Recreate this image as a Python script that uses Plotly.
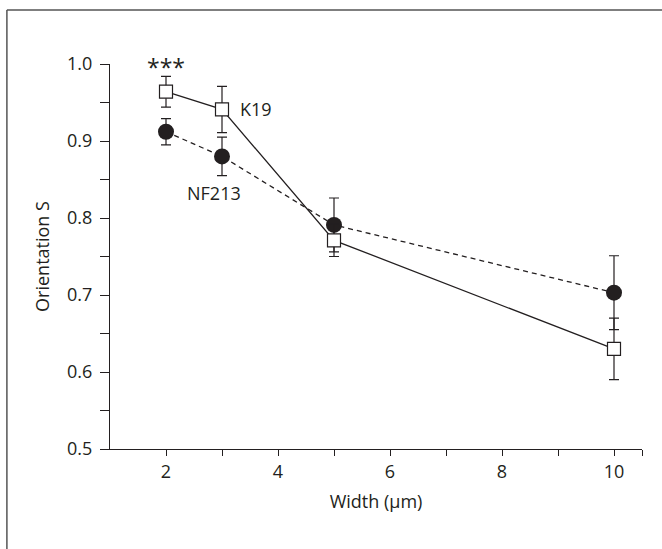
import plotly.graph_objects as go

widths = [2, 3, 5, 10]
k19_values = [0.964, 0.941, 0.771, 0.630]
k19_errors = [0.020, 0.030, 0.021, 0.040]
nf213_values = [0.912, 0.880, 0.791, 0.703]
nf213_errors = [0.017, 0.025, 0.035, 0.048]

INK = "#231f20"
FONT = "Open Sans"

fig = go.Figure()

fig.add_trace(go.Scatter(
    x=widths, y=nf213_values, mode="lines+markers", name="NF213",
    line=dict(color=INK, width=1.3, dash="5px,4px"),
    marker=dict(symbol="circle", size=16, color=INK, line=dict(color=INK, width=0)),
    error_y=dict(type="data", array=nf213_errors, color=INK, thickness=1.2, width=5),
    cliponaxis=False,
))
fig.add_trace(go.Scatter(
    x=widths, y=k19_values, mode="lines+markers", name="K19",
    line=dict(color=INK, width=1.3),
    marker=dict(symbol="square", size=13, color="white", line=dict(color=INK, width=1.2)),
    error_y=dict(type="data", array=k19_errors, color=INK, thickness=1.2, width=5),
    cliponaxis=False,
))

fig.add_annotation(x=2, xref="x", y=1.0, yref="paper", yanchor="middle", yshift=-3,
                   text="***", showarrow=False,
                   font=dict(family=FONT, size=23, color=INK))
fig.add_annotation(x=3.6, y=0.942, text="K19", showarrow=False,
                   font=dict(family=FONT, size=18, color=INK))
fig.add_annotation(x=2.85, y=0.832, text="NF213", showarrow=False,
                   font=dict(family=FONT, size=18, color=INK))

# cropped figure frame (top and left edges)
frame = dict(color="#555555", width=1.5)
fig.add_shape(type="line", xref="paper", yref="paper", x0=-0.1938, x1=1.06,
              y0=1.1403, y1=1.1403, line=frame)
fig.add_shape(type="line", xref="paper", yref="paper", x0=-0.1938, x1=-0.1938,
              y0=1.1403, y1=-0.3, line=frame)

fig.update_layout(
    width=662, height=549,
    margin=dict(l=110, r=20.4, t=64, b=100),
    paper_bgcolor="white", plot_bgcolor="white",
    showlegend=False,
    font=dict(family=FONT, size=18, color=INK),
    xaxis=dict(
        range=[1, 10.5], tickmode="array", tickvals=[2, 4, 6, 8, 10],
        ticks="outside", ticklen=6, tickwidth=1.2, tickcolor=INK,
        minor=dict(tickmode="array", tickvals=[3, 5, 7, 9, 10.5], ticks="outside",
                   ticklen=6, tickwidth=1.2, tickcolor=INK, showgrid=False),
        showline=True, linecolor=INK, linewidth=1.2, showgrid=False, zeroline=False,
        tickfont=dict(size=18), title=dict(text="Width (µm)", font=dict(size=18), standoff=13),
    ),
    yaxis=dict(
        range=[0.5, 1.0], tickmode="array", tickvals=[0.5, 0.6, 0.7, 0.8, 0.9, 1.0],
        ticktext=["0.5", "0.6", "0.7", "0.8", "0.9", "1.0"],
        ticks="outside", ticklen=9, tickwidth=1.2, tickcolor=INK, ticklabelstandoff=4,
        minor=dict(tickmode="array", tickvals=[0.55, 0.65, 0.75, 0.85, 0.95], ticks="outside",
                   ticklen=9, tickwidth=1.2, tickcolor=INK, showgrid=False),
        showline=True, linecolor=INK, linewidth=1.2, showgrid=False, zeroline=False,
        tickfont=dict(size=18), title=dict(text="Orientation S", font=dict(size=18), standoff=12),
    ),
)

fig.write_html("out.html")
